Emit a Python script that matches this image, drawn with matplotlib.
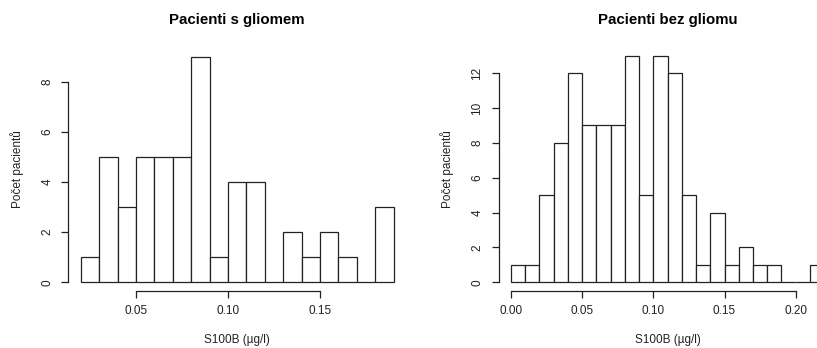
import numpy as np
import matplotlib
matplotlib.use("Agg")
import matplotlib.pyplot as plt

plt.rcParams['font.family'] = ['Liberation Sans', 'DejaVu Sans']

# Data (bin width 0.01)
edges_glioma = np.round(np.arange(0.02, 0.19 + 1e-9, 0.01), 2)
counts_glioma = [1, 5, 3, 5, 5, 5, 9, 1, 4, 4, 0, 2, 1, 2, 1, 0, 3]
edges_noglioma = np.round(np.arange(0.00, 0.22 + 1e-9, 0.01), 2)
counts_noglioma = [1, 1, 5, 8, 12, 9, 9, 9, 13, 5, 13, 12, 5, 1, 4, 1, 2, 1, 1, 0, 0, 1]

titles = ["Pacienti s gliomem", "Pacienti bez gliomu"]
xlabel = "S100B (µg/l)"
ylabel = "Počet pacientů"
xticks_list = [[0.05, 0.10, 0.15], [0.00, 0.05, 0.10, 0.15, 0.20]]
yticks_list = [[0, 2, 4, 6, 8], [0, 2, 4, 6, 8, 10, 12]]

W, H = 817, 348
fig = plt.figure(figsize=(W / 100, H / 100), dpi=100)

def r_lim(lo, hi):
    d = (hi - lo) * 0.04
    return lo - d, hi + d

# axes positions in pixels (left, top, right, bottom)
boxes = [(68.3, 47.6, 406.1, 291.3), (498.5, 46.5, 836.7, 291.4)]

col = '#222222'
fs = 8.5
for i, (edges, counts) in enumerate([(edges_glioma, counts_glioma), (edges_noglioma, counts_noglioma)]):
    l, t, r, b = boxes[i]
    ax = fig.add_axes([l / W, 1 - b / H, (r - l) / W, (b - t) / H])
    ax.bar(edges[:-1], counts, width=np.diff(edges), align='edge',
           facecolor='white', edgecolor=col, linewidth=0.9)
    ax.set_xlim(*r_lim(edges[0], edges[-1]))
    ax.set_ylim(*r_lim(0, max(counts)))
    for s in ['top', 'right']:
        ax.spines[s].set_visible(False)
    xt = xticks_list[i]
    yt = yticks_list[i]
    ax.spines['bottom'].set_bounds(xt[0], xt[-1])
    ax.spines['left'].set_bounds(yt[0], yt[-1])
    for s in ['bottom', 'left']:
        ax.spines[s].set_color(col)
        ax.spines[s].set_linewidth(0.9)
    ax.set_xticks(xt)
    ax.set_xticklabels([f"{v:.2f}" for v in xt])
    ax.set_yticks(yt)
    ax.set_yticklabels([str(v) for v in yt])
    ax.tick_params(axis='both', direction='out', length=5.3, width=0.9,
                   color=col, labelsize=fs, labelcolor=col)
    ax.tick_params(axis='x', pad=4.5)
    ax.tick_params(axis='y', pad=5.5, labelrotation=90)
    for lab in ax.get_yticklabels():
        lab.set_va('center')
    cx = (l + r) / 2
    if i == 1:
        cx = (l + 1 + r) / 2
    fig.text(((l + r) / 2) / W, 1 - 20 / H, titles[i], ha='center', va='center',
             fontsize=10.8, fontweight='bold', color='black')
    fig.text(((l + r) / 2) / W, 1 - 340 / H, xlabel, ha='center', va='center',
             fontsize=fs, color=col)
    ylx = 16.7 if i == 0 else 446.7
    fig.text(ylx / W, 1 - ((t + b) / 2) / H, ylabel, ha='center', va='center',
             rotation=90, fontsize=fs, color=col)

fig.savefig('out.png', dpi=100)
